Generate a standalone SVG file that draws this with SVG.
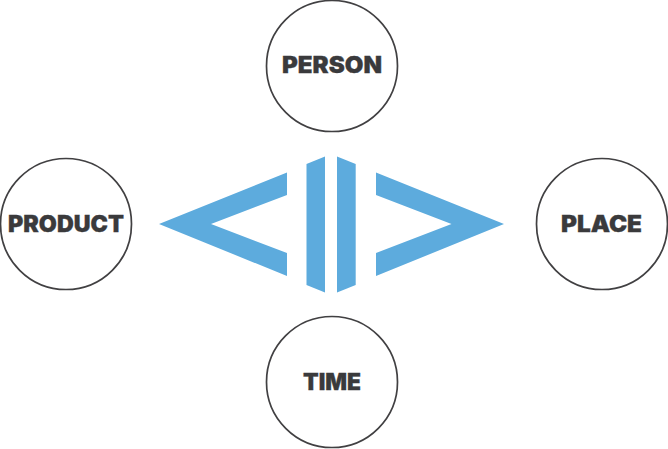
<svg xmlns="http://www.w3.org/2000/svg" width="668" height="449" viewBox="0 0 668 449">
<style>
.c{fill:#fff;stroke:#414042;stroke-width:1.7}
.t{font-family:"Inter","Liberation Sans",sans-serif;font-weight:900;font-size:22.5px;fill:#3a3a3c;stroke:#3a3a3c;stroke-width:0.3;text-anchor:middle}
.s{fill:#5dabdd}
</style>
<rect width="668" height="449" fill="#fff"/>
<g id="connectors">
<polygon class="s" points="159,224 287,172.5 287,195 211,224 287,253 287,276"/>
<polygon class="s" points="306.5,164 325,156.5 325,292.5 306.5,285"/>
<polygon class="s" points="337,156.5 355.7,164 355.7,285 337,292.5"/>
<polygon class="s" points="504,224 376,172.5 376,195 451.5,224 376,253 376,276"/>
</g>
<g id="person"><circle class="c" cx="332" cy="66" r="65.5"/><text class="t" x="332" y="73" textLength="100" lengthAdjust="spacingAndGlyphs">PERSON</text></g>
<g id="product"><circle class="c" cx="66" cy="224" r="65.5"/><text class="t" x="66" y="231.5" textLength="116" lengthAdjust="spacingAndGlyphs">PRODUCT</text></g>
<g id="place"><circle class="c" cx="602" cy="224" r="65.5"/><text class="t" x="601.5" y="231.5" textLength="81" lengthAdjust="spacingAndGlyphs">PLACE</text></g>
<g id="time"><circle class="c" cx="332" cy="382" r="65.5"/><text class="t" x="332" y="390" textLength="58" lengthAdjust="spacingAndGlyphs">TIME</text></g>
</svg>
